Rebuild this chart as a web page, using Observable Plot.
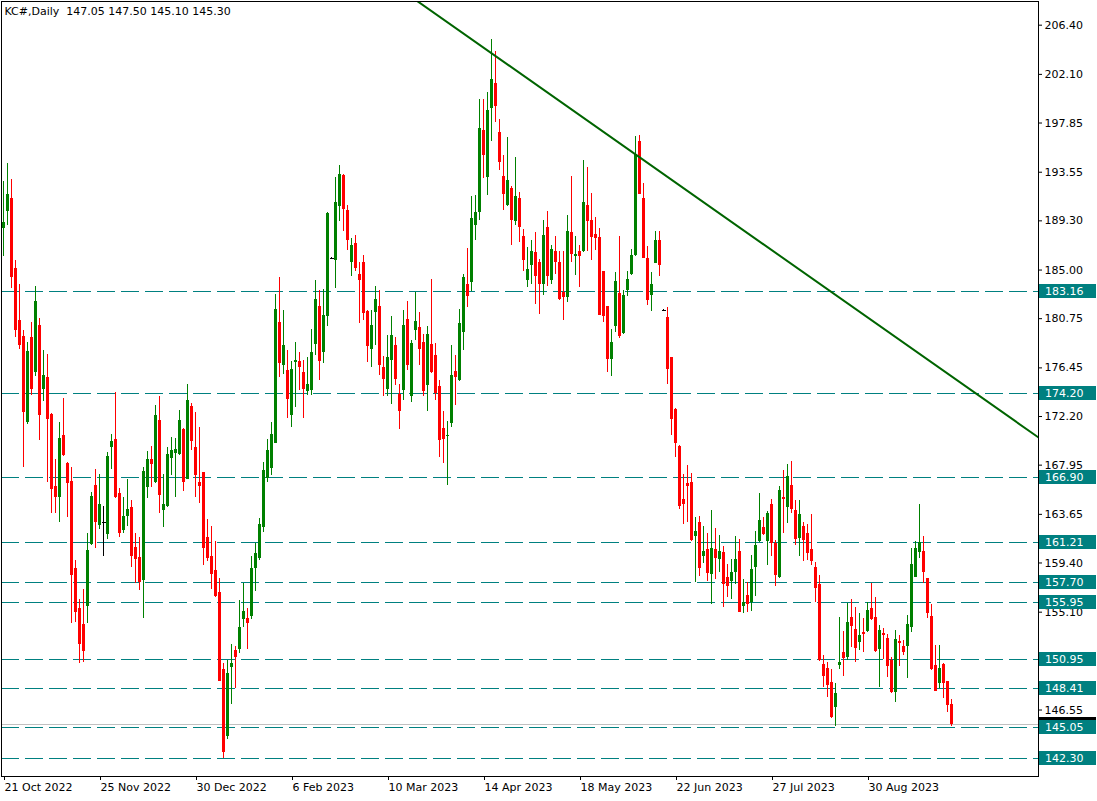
<!DOCTYPE html>
<html><head><meta charset="utf-8">
<script src="https://cdn.jsdelivr.net/npm/d3@7"></script>
<script src="https://cdn.jsdelivr.net/npm/@observablehq/plot@0.6"></script>
<style>body{margin:0;background:#fff;} svg{display:block;}</style>
</head><body><div id="chart"></div>
<script>
const titleText = "KC#,Daily\u00a0\u00a0147.05 147.50 145.10 145.30";

const opens = [
188.64,190.10,191.27,185.14,180.62,179.22,171.72,179.13,176.01,180.18,
174.58,175.63,172.39,166.09,165.16,170.56,168.08,166.56,158.89,155.39,
154.02,155.59,160.99,166.18,162.68,162.97,161.89,169.48,170.21,165.46,
162.24,163.50,164.28,160.78,159.91,157.87,166.03,168.46,166.47,171.87,
163.99,164.34,168.52,169.01,168.89,171.08,166.71,173.09,169.45,166.47,
167.29,161.66,160.00,158.74,156.85,150.08,144.25,150.28,151.74,151.81,
154.46,154.57,154.75,158.95,159.82,162.51,166.79,167.67,169.88,180.42,
176.68,176.18,172.25,176.88,177.03,176.01,174.43,174.49,178.49,181.78,
177.76,180.91,186.02,185.87,190.59,193.22,190.24,185.69,187.36,184.64,
185.69,181.41,178.06,181.26,181.84,176.51,174.58,177.12,178.43,174.14,
174.49,180.71,173.91,179.74,179.98,178.63,174.93,178.52,177.56,174.78,
171.14,170.45,171.58,176.16,175.37,179.51,183.77,183.88,188.93,190.01,
197.16,193.11,199.08,201.27,197.04,193.16,190.62,192.14,189.28,191.27,
187.97,184.12,185.37,186.51,185.63,183.77,188.70,184.06,186.66,185.63,
183.01,182.57,188.26,186.22,186.60,186.60,190.62,189.37,188.14,187.88,
184.85,181.78,177.21,180.03,182.96,179.46,183.18,184.62,186.25,196.22,
191.27,186.02,182.75,185.58,187.56,181.49,180.86,177.32,172.83,169.62,
164.96,166.33,166.47,161.75,162.97,159.97,160.58,158.39,160.58,159.71,
160.35,158.16,157.81,158.60,160.43,155.62,156.56,155.92,158.98,161.28,
162.53,161.31,164.52,161.13,158.16,165.16,164.28,166.18,163.99,161.52,
162.60,161.96,160.58,159.03,157.52,150.52,150.20,148.92,146.78,150.43,
151.54,151.16,154.66,153.58,152.47,153.35,153.41,155.39,154.61,151.83,
153.21,152.77,150.87,148.04,152.53,152.12,152.12,153.78,158.16,160.35,
160.41,158.02,154.72,150.43,148.88,150.52,149.03,147.05];

const highs = [
192.72,194.33,192.93,185.87,183.77,179.74,178.63,180.44,183.53,180.79,
177.99,177.64,172.48,168.43,171.69,173.79,168.15,167.73,159.62,156.21,
157.06,162.01,165.60,167.58,167.12,164.34,169.07,170.64,174.29,165.89,
165.16,166.71,164.87,161.96,161.66,167.73,169.16,169.59,173.18,173.91,
167.12,169.53,170.41,170.27,172.74,171.15,175.02,173.33,172.51,171.23,
167.35,163.21,162.62,161.28,158.02,150.58,150.87,152.27,152.09,156.12,
157.58,155.45,159.97,161.13,163.32,168.19,170.21,171.72,182.89,184.32,
181.49,177.99,177.03,178.63,177.76,177.12,177.32,179.81,184.12,183.24,
183.33,190.01,186.10,193.11,194.18,193.39,190.68,187.79,188.06,185.69,
186.31,181.45,181.49,183.59,183.18,177.47,179.31,180.91,179.11,175.02,
181.49,182.28,178.87,183.01,181.26,179.39,180.03,184.18,178.58,175.37,
172.60,171.78,178.43,177.56,181.56,184.62,186.89,191.41,191.50,199.87,
199.87,200.51,205.12,204.10,198.12,194.97,196.57,192.28,194.82,191.76,
188.58,186.95,187.62,188.26,185.96,189.37,190.10,187.18,187.97,186.66,
186.60,189.81,193.16,187.91,187.18,194.56,193.95,191.71,189.57,188.64,
184.91,181.85,179.83,184.79,187.97,183.24,184.85,186.83,196.66,196.72,
192.58,187.03,184.76,188.35,188.35,181.55,181.73,177.36,172.89,169.68,
167.12,167.93,167.21,163.41,163.47,162.59,162.01,163.99,162.45,161.81,
160.84,159.27,159.68,161.72,161.46,157.93,157.72,160.06,162.16,165.51,
163.41,163.91,164.96,161.37,166.09,167.49,168.02,168.28,164.87,164.87,
162.97,162.77,163.64,159.47,158.31,151.31,150.72,150.08,148.83,154.66,
153.43,155.88,156.21,155.48,154.96,154.52,155.92,157.58,156.36,153.93,
153.64,153.14,151.16,153.49,153.06,152.62,154.81,160.64,161.31,164.52,
161.72,158.08,155.77,152.18,152.18,150.58,149.08,147.50];

const lows = [
186.22,188.93,183.39,179.11,178.08,167.78,171.52,174.00,175.66,170.12,
173.47,166.47,163.76,163.71,162.97,168.70,163.41,154.08,154.22,150.58,
150.72,154.13,160.95,160.70,162.33,160.00,161.46,167.56,165.02,161.66,
162.01,162.62,159.03,157.58,156.99,154.52,165.07,166.03,166.33,163.76,
162.53,164.28,167.06,165.16,168.81,165.68,166.68,169.24,165.16,164.63,
159.18,159.53,157.08,156.41,149.06,142.27,143.93,146.99,148.45,151.46,
153.73,151.81,154.43,156.91,159.62,162.07,166.44,167.06,169.85,175.57,
175.89,172.07,171.28,172.95,174.49,172.07,174.00,174.06,177.56,175.31,
176.83,180.03,185.95,183.39,189.22,188.35,186.74,184.47,184.91,180.33,
180.62,176.88,176.48,178.43,175.81,173.91,173.91,173.27,174.93,171.08,
173.56,176.24,173.42,178.87,176.68,173.91,172.60,175.96,173.62,168.61,
168.13,166.18,171.28,173.12,175.30,177.99,181.70,183.10,187.62,189.37,
193.02,191.50,196.22,197.88,193.68,190.18,190.55,187.12,188.93,187.38,
184.85,183.45,183.77,182.02,181.14,182.81,183.53,183.77,184.64,182.37,
180.62,182.13,185.63,184.56,183.45,186.51,186.60,185.81,186.74,181.64,
180.38,176.04,175.66,179.54,179.02,179.39,182.66,184.56,186.20,191.56,
186.02,181.93,181.35,185.55,184.41,181.45,175.02,170.56,168.66,164.08,
162.77,162.97,161.31,157.72,158.22,159.33,157.78,155.77,157.96,158.60,
155.48,156.36,156.21,157.52,155.05,155.01,155.05,155.16,156.50,161.22,
161.81,159.18,159.97,157.34,158.02,162.01,162.83,163.71,160.93,160.00,
159.56,159.62,159.18,155.97,150.78,148.48,147.66,145.77,145.12,150.08,
149.50,150.87,152.03,150.72,151.74,151.60,153.35,154.37,151.54,148.53,
150.96,149.41,148.00,147.22,150.37,151.31,149.27,153.35,158.10,159.77,
157.63,154.52,149.99,148.15,148.39,147.52,146.35,145.10];

const closes = [
189.13,191.64,184.32,179.68,178.37,172.51,177.85,174.58,182.28,172.25,
175.81,171.93,165.81,165.11,170.29,168.75,166.33,158.31,155.10,152.27,
151.68,160.49,165.22,162.97,164.52,162.97,168.72,170.06,165.13,162.01,
163.47,164.08,160.00,159.71,157.67,167.41,168.46,168.02,172.31,165.31,
164.52,168.89,169.24,169.33,171.87,166.47,173.62,170.06,167.06,166.09,
160.70,159.82,158.37,156.50,149.06,142.85,149.76,150.63,151.16,153.78,
155.18,154.13,158.95,160.26,162.77,167.49,169.24,170.64,181.58,176.83,
178.43,173.71,176.33,177.12,176.45,174.58,175.02,177.79,182.43,176.97,
181.06,189.96,186.02,190.88,193.31,190.31,187.62,187.18,185.17,184.06,
181.21,178.28,180.18,182.43,176.68,175.46,177.36,179.31,175.46,172.60,
180.18,176.62,178.58,180.47,178.06,174.35,179.37,176.04,174.21,170.12,
170.21,170.55,175.81,175.57,180.33,184.36,182.66,189.52,190.04,197.39,
194.97,198.91,201.62,199.28,194.42,191.64,192.81,189.37,191.47,188.70,
185.81,185.08,186.66,184.47,183.77,188.06,184.41,186.83,185.63,182.46,
182.57,188.35,186.39,186.39,186.16,190.88,189.22,187.82,187.73,181.02,
180.91,177.21,178.67,184.03,179.16,182.81,184.21,186.25,195.06,191.56,
186.02,182.37,183.77,187.56,185.43,181.49,176.33,171.96,169.88,164.37,
164.52,166.12,161.37,162.18,158.95,160.43,158.51,160.70,159.82,160.43,
157.49,157.37,158.54,159.71,155.10,155.97,155.77,158.83,160.93,163.12,
161.87,163.76,161.08,158.31,165.74,164.96,166.97,164.08,161.43,163.62,
161.37,160.26,159.53,157.20,150.87,149.50,148.68,145.91,147.96,150.72,
151.02,154.17,153.87,151.95,153.06,153.14,155.24,154.43,151.66,153.49,
153.06,150.37,148.04,152.68,152.33,151.60,154.02,159.27,160.64,161.22,
158.60,155.01,150.06,148.18,150.20,148.83,146.93,145.30];

const dateLabels = ["21 Oct 2022","25 Nov 2022","30 Dec 2022","6 Feb 2023","10 Mar 2023",
  "14 Apr 2023","18 May 2023","22 Jun 2023","27 Jul 2023","30 Aug 2023"];
const dateLabelBars = [0,24,48,72,96,120,144,168,192,216];

const priceTicks = [206.40,202.10,197.85,193.55,189.30,185.00,180.75,176.45,172.20,167.95,163.65,159.40,155.10,146.55];
const levels = [183.16,174.20,166.90,161.21,157.70,155.95,150.95,148.41,145.05,142.30];
const lastPrice = 145.30;
const trendBars = [100, 260];
const trendPrices = [209.35, 170.06];

const UP = "#008000", DOWN = "#ff0000", FLAT = "#000000", LEVEL = "#008080";

const candles = opens.map((o, i) => ({
  i, o, h: highs[i], l: lows[i], c: closes[i],
  col: closes[i] > o ? UP : closes[i] < o ? DOWN : FLAT
}));
const trend = trendBars.map((b, k) => ({b, p: trendPrices[k]}));
const labelOf = new Map(dateLabelBars.map((b, k) => [b, dateLabels[k]]));
const half = 0.375;

const chart = Plot.plot({
  width: 1097, height: 801,
  marginLeft: 1, marginRight: 59, marginTop: 1, marginBottom: 25,
  style: {fontFamily: "DejaVu Sans", fontSize: "11px", background: "#fff", color: "#000", overflow: "visible"},
  x: {type: "linear", domain: [-0.5, 258.75], axis: null},
  y: {domain: [140.74, 208.47], axis: null},
  color: {type: "identity"},
  marks: [
    Plot.ruleY(levels, {y: d => d, stroke: LEVEL, strokeDasharray: "18,6", shapeRendering: "crispEdges"}),
    Plot.ruleY([lastPrice], {y: d => d, stroke: "#c0c0c0", shapeRendering: "crispEdges"}),
    Plot.ruleX(candles, {x: "i", y1: "l", y2: "h", stroke: "col", shapeRendering: "crispEdges"}),
    Plot.rect(candles.filter(d => d.o !== d.c), {
      x1: d => d.i - half, x2: d => d.i + half, y1: "o", y2: "c", fill: "col", shapeRendering: "crispEdges"
    }),
    Plot.ruleY(candles.filter(d => d.o === d.c), {
      y: "o", x1: d => d.i - half, x2: d => d.i + half + 0.25, stroke: "col", shapeRendering: "crispEdges"
    }),
    Plot.line(trend, {x: "b", y: "p", stroke: "#006400", strokeWidth: 2, clip: true}),
    Plot.frame({stroke: "#000", shapeRendering: "crispEdges"}),
    Plot.axisY(priceTicks, {anchor: "right", tickSize: 3, tickPadding: 3, tickFormat: d => d.toFixed(2), textAnchor: "start", fill: "#000", stroke: "#000"}),
    Plot.axisX(dateLabelBars, {anchor: "bottom", tickSize: 4, tickPadding: 3, tickFormat: d => labelOf.get(d), textAnchor: "start", dx: 1, fill: "#000", stroke: "#000"}),
    Plot.text([titleText], {frameAnchor: "top-left", dx: 3, dy: 6, lineAnchor: "top", textAnchor: "start", fill: "#000", fontSize: 11})
  ]
});

// price labels for horizontal levels on the right axis, placed with the plot's own y scale
const ys = chart.scale("y");
const svg = d3.select(chart);
const boxX = 1039, boxW = 57, boxH = 14;
const g = svg.append("g").attr("font-family", "DejaVu Sans").attr("font-size", 11).attr("text-anchor", "start");
const bidY = ys.apply(lastPrice);
g.append("rect").attr("x", boxX).attr("y", Math.round(bidY - boxH / 2)).attr("width", boxW).attr("height", boxH).attr("fill", "#000");
levels.forEach(v => {
  const y = ys.apply(v);
  g.append("rect").attr("x", boxX).attr("y", Math.round(y - boxH / 2)).attr("width", boxW).attr("height", boxH).attr("fill", LEVEL);
  g.append("text").attr("x", boxX + 6).attr("y", Math.round(y) + 4).attr("fill", "#fff").attr("text-anchor", "start").text(v.toFixed(2));
});

document.getElementById("chart").appendChild(chart);
</script>
</body></html>
